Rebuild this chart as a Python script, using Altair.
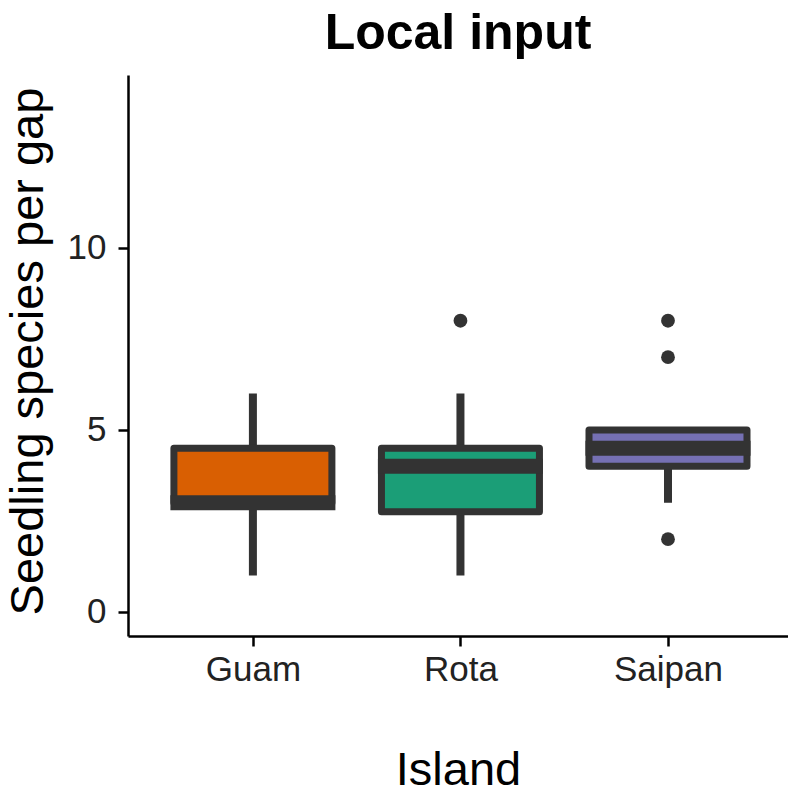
import altair as alt
import pandas as pd

islands = ["Guam", "Rota", "Saipan"]
q1 = [3.0, 2.75, 4.0]
median = [3.0, 4.0, 4.5]
q3 = [4.5, 4.5, 5.0]
whisker_low = [1.0, 1.0, 3.0]
whisker_high = [6.0, 6.0, 5.0]
colors = ["#d95f02", "#1b9e77", "#7570b3"]

outlier_island = ["Rota", "Saipan", "Saipan", "Saipan"]
outlier_value = [8.0, 8.0, 7.0, 2.0]

stats = pd.DataFrame({
    "Island": islands, "q1": q1, "median": median, "q3": q3,
    "lo": whisker_low, "hi": whisker_high,
})
outl = pd.DataFrame({"Island": outlier_island, "value": outlier_value})

DARK = "#333333"
xscale = alt.Scale(type="point", domain=islands, padding=0.59, align=0.51)
yscale = alt.Scale(domain=[-0.66, 14.75], nice=False, zero=False)

x = alt.X("Island:N", scale=xscale, sort=islands,
          axis=alt.Axis(title="Island", labelAngle=0, titleY=148,
                        titleBaseline="alphabetic"))
yaxis = alt.Axis(title="Seedling species per gap", values=[0, 5, 10],
                 titleX=-86, titleY=276, titleAngle=-90,
                 titleBaseline="alphabetic", titleAlign="center")

base = alt.Chart(stats)

whiskers = base.mark_rule(color=DARK, strokeWidth=8, strokeCap="butt").encode(
    x=x,
    y=alt.Y("lo:Q", scale=yscale, axis=yaxis),
    y2="hi:Q",
)

boxes = base.mark_bar(size=158, stroke=DARK, strokeWidth=7, strokeJoin="round").encode(
    x=x,
    y=alt.Y("q1:Q", scale=yscale),
    y2="q3:Q",
    color=alt.Color("Island:N", scale=alt.Scale(domain=islands, range=colors), legend=None),
)

medians = base.mark_tick(color=DARK, size=165, thickness=15, opacity=1).encode(
    x=x,
    y=alt.Y("median:Q", scale=yscale),
)

points = alt.Chart(outl).mark_circle(color=DARK, size=190, opacity=1).encode(
    x=x,
    y=alt.Y("value:Q", scale=yscale),
)

chart = alt.layer(whiskers, boxes, medians, points).properties(
    width=660,
    height=561,
    title=alt.TitleParams("Local input", fontSize=50, fontWeight="bold",
                          font="Liberation Sans", color="#000000",
                          anchor="middle", baseline="alphabetic", offset=32, dy=56),
    autosize=alt.AutoSizeParams(type="none"),
    padding={"left": 128, "top": 75, "right": 0, "bottom": 157},
).configure_view(
    stroke=None
).configure_axis(
    grid=False,
    domainColor="#000000",
    domainWidth=2.5,
    tickColor="#000000",
    tickWidth=2.5,
    tickSize=10,
    labelFont="Liberation Sans",
    labelFontSize=35,
    labelColor="#222222",
    titleFont="Liberation Sans",
    titleFontSize=47,
    titleFontWeight="normal",
    titleColor="#000000",
).configure_axisY(
    labelPadding=12,
).configure_axisX(
    labelPadding=6,
)

chart.save("out.html", embed_options={"renderer": "svg", "actions": False})
